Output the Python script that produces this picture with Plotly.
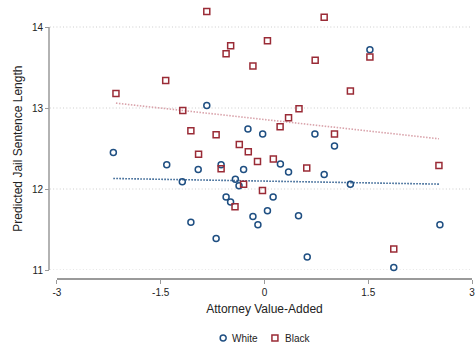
import plotly.graph_objects as go

# Attorney value-added (x) and predicted jail sentence length (y), by defendant race
white_x = [-2.185, -0.834, 1.524, -0.239, -0.026, 0.729, 1.012, -1.413, -0.627, -0.958,
           -0.302, 0.230, 0.348, 0.863, -1.188, -0.421, -0.368, 1.242, -0.555, -0.490,
           0.125, 0.043, -0.167, 0.492, -0.095, -1.064, 2.536, -0.699, 0.618, 1.869]
white_y = [12.45, 13.03, 13.72, 12.74, 12.68, 12.68, 12.53, 12.30, 12.30, 12.24,
           12.24, 12.31, 12.21, 12.18, 12.09, 12.12, 12.04, 12.06, 11.90, 11.84,
           11.90, 11.73, 11.66, 11.67, 11.56, 11.59, 11.56, 11.39, 11.16, 11.03]

black_x = [-0.834, 0.863, -0.489, -0.555, 0.043, -0.167, 0.733, 1.524, -1.428, -2.147,
           1.242, -1.181, 0.499, 0.348, 0.226, -1.064, -0.699, 1.012, -0.364, -0.234,
           -0.953, -0.101, 0.128, -0.627, 0.611, 2.522, -0.302, -0.029, -0.426, 1.869]
black_y = [14.19, 14.12, 13.77, 13.67, 13.83, 13.52, 13.59, 13.63, 13.34, 13.18,
           13.21, 12.97, 12.99, 12.88, 12.77, 12.72, 12.67, 12.68, 12.55, 12.46,
           12.43, 12.34, 12.37, 12.25, 12.26, 12.29, 12.06, 11.98, 11.78, 11.26]

# Linear fit values at the lowest and highest attorney value-added of each group
white_fit_y = [12.13, 12.06]
black_fit_y = [13.06, 12.62]

x_ticks = [-3, -1.5, 0, 1.5, 3]
x_tick_labels = ["-3", "-1.5", "0", "1.5", "3"]
y_ticks = [11, 12, 13, 14]
y_tick_labels = ["11", "12", "13", "14"]

legend_labels = ["White", "Black"]

NAVY = "#1f4f82"
MAROON = "#9a2b36"
AXIS = "#9a9a9a"
FONT = "Liberation Sans, Arial, sans-serif"

W, H = 475, 350
ML, MR, MT, MB = 49, 1, 0, 71
PW = W - ML - MR          # paper width in px
PH = H - MT - MB          # paper height in px

# the y axis runs 11..14; extra headroom above 14 keeps the top markers visible
Y_LO, Y_HI = 11, 14
PX_PER_UNIT = (PH - 9) / (Y_HI - Y_LO + 27 / 81.0)
Y_TOP = Y_HI + 27 / PX_PER_UNIT

fig = go.Figure()

# dotted fit lines
fig.add_trace(go.Scatter(
    x=[min(black_x), max(black_x)], y=black_fit_y, mode="lines",
    line=dict(color="#d9a3ab", width=1.6, dash="1.5px,1.5px"),
    hoverinfo="skip", showlegend=False))
fig.add_trace(go.Scatter(
    x=[min(white_x), max(white_x)], y=white_fit_y, mode="lines",
    line=dict(color="#2a5a8c", width=1.6, dash="1.5px,1.5px"),
    hoverinfo="skip", showlegend=False))

# hollow markers
fig.add_trace(go.Scatter(
    x=white_x, y=white_y, mode="markers", name=legend_labels[0],
    marker=dict(symbol="circle-open", size=6, color=NAVY, line=dict(width=1.5, color=NAVY)),
    showlegend=False, cliponaxis=False))
fig.add_trace(go.Scatter(
    x=black_x, y=black_y, mode="markers", name=legend_labels[1],
    marker=dict(symbol="square-open", size=6, color=MAROON, line=dict(width=1.5, color=MAROON)),
    showlegend=False, cliponaxis=False))

shapes = []
# horizontal dotted gridlines starting at the y axis line
for v in y_ticks:
    shapes.append(dict(type="line", xref="paper", yref="y", x0=0.002, x1=1, y0=v, y1=v,
                       line=dict(color="#cccccc", width=1, dash="1px,2.3px"), layer="below"))
# y axis line spanning only the labelled range
shapes.append(dict(type="line", xref="paper", yref="y", x0=0, x1=0, y0=Y_LO, y1=Y_HI,
                   line=dict(color=AXIS, width=1.5)))


def px_x(p):
    return (p - ML) / PW


def px_y(p):
    return (MT + PH - p) / PH


# legend keys below the x axis title
leg_y = px_y(338)
shapes.append(dict(type="circle", xref="paper", yref="paper", xsizemode="pixel", ysizemode="pixel",
                   xanchor=px_x(224), yanchor=leg_y, x0=-3, x1=3, y0=-3, y1=3,
                   line=dict(color=NAVY, width=1.5)))
shapes.append(dict(type="rect", xref="paper", yref="paper", xsizemode="pixel", ysizemode="pixel",
                   xanchor=px_x(276), yanchor=leg_y, x0=-3, x1=3, y0=-3, y1=3,
                   line=dict(color=MAROON, width=1.5)))

annotations = [
    dict(text=legend_labels[0], xref="paper", yref="paper", x=px_x(231), y=leg_y,
         xanchor="left", yanchor="middle", showarrow=False, font=dict(size=10, color="#222", family=FONT)),
    dict(text=legend_labels[1], xref="paper", yref="paper", x=px_x(284), y=leg_y,
         xanchor="left", yanchor="middle", showarrow=False, font=dict(size=10, color="#222", family=FONT)),
    dict(text="Predicted Jail Sentence Length", xref="paper", yref="paper",
         x=px_x(17), y=px_y(148.5), textangle=-90, xanchor="center", yanchor="middle",
         showarrow=False, font=dict(size=12, color="#222", family=FONT)),
]

fig.update_layout(
    width=W, height=H,
    margin=dict(l=ML, r=MR, t=MT, b=MB, pad=0),
    paper_bgcolor="white", plot_bgcolor="white",
    font=dict(family=FONT, color="#222", size=10),
    showlegend=False,
    shapes=shapes,
    annotations=annotations,
    xaxis=dict(
        domain=[8 / PW, 1], range=[-3, 3], anchor="free", position=0,
        tickmode="array", tickvals=x_ticks, ticktext=x_tick_labels,
        ticks="outside", ticklen=4, tickwidth=1.2, tickcolor=AXIS,
        showline=True, linecolor=AXIS, linewidth=1.5,
        showgrid=False, zeroline=False, ticklabeloverflow="allow",
        tickfont=dict(size=10, color="#222"),
        title=dict(text="Attorney Value-Added", font=dict(size=12, color="#222"), standoff=7),
    ),
    yaxis=dict(
        domain=[9 / PH, 1], range=[Y_LO, Y_TOP], anchor="free", position=0,
        tickmode="array", tickvals=y_ticks, ticktext=y_tick_labels,
        ticks="outside", ticklen=4, tickwidth=1.2, tickcolor=AXIS,
        showline=False, showgrid=False, zeroline=False,
        tickfont=dict(size=10, color="#222"),
    ),
)

fig.write_html("out.html")
